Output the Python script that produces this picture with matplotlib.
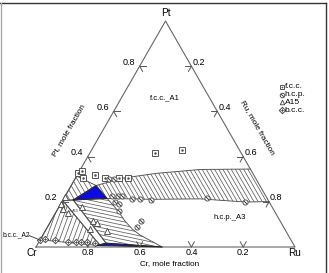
import numpy as np
import matplotlib
matplotlib.use("Agg")
import matplotlib.pyplot as plt
from matplotlib.collections import LineCollection
from matplotlib.patches import Polygon
from matplotlib.lines import Line2D

plt.rcParams["font.family"] = ["Liberation Sans", "DejaVu Sans"]

# compositions are mole fractions (Pt, Ru); Cr is the balance
fcc_edge_pt = [0.272, 0.305, 0.326, 0.343, 0.345]
fcc_edge_ru = [0.096, 0.183, 0.303, 0.462, 0.655]
hcp_edge_pt = [0.215, 0.211, 0.213, 0.199, 0.201]
hcp_edge_ru = [0.167, 0.335, 0.527, 0.708, 0.799]
hcp_curve_pt = [0.215, 0.186, 0.157, 0.115, 0.080, 0.053, 0.029, 0.0]
hcp_curve_ru = [0.167, 0.204, 0.240, 0.286, 0.331, 0.375, 0.426, 0.487]
tri_top_pt = [0.208, 0.272, 0.215]
tri_top_ru = [0.040, 0.096, 0.167]
tri_bot_pt = [0.007, 0.017, 0.0]
tri_bot_ru = [0.232, 0.262, 0.487]
fcc_a15_pt = [0.314, 0.272, 0.208, 0.206]
fcc_a15_ru = [0.0, 0.096, 0.040, 0.0]
a15_band_pt = [0.206, 0.208, 0.017, 0.010]
a15_band_ru = [0.0, 0.040, 0.262, 0.240]
bcc_a15_pt = [0.032, 0.206, 0.010, 0.007]
bcc_a15_ru = [0.0, 0.0, 0.240, 0.232]

# experimental points
fcc_pt = [0.415, 0.431, 0.326, 0.336, 0.307, 0.319, 0.304, 0.3075, 0.3075]
fcc_ru = [0.252, 0.349, 0.0, 0.008, 0.027, 0.068, 0.114, 0.168, 0.201]
hcp_pt = [0.301, 0.301, 0.2235, 0.2235, 0.2235, 0.212, 0.212, 0.210, 0.219,
          0.197, 0.201, 0.192, 0.161, 0.0885, 0.115]
hcp_ru = [0.133, 0.152, 0.183, 0.203, 0.222, 0.263, 0.294, 0.339, 0.550,
          0.708, 0.205, 0.226, 0.240, 0.345, 0.348]
a15_pt = [0.221, 0.190, 0.170, 0.150, 0.178, 0.117, 0.104, 0.080, 0.069]
a15_ru = [0.0, 0.003, 0.021, 0.048, 0.087, 0.163, 0.182, 0.168, 0.240]
bcc_pt = [0.032, 0.035, 0.031, 0.024, 0.020, 0.020, 0.021, 0.016]
bcc_ru = [0.0, 0.017, 0.058, 0.113, 0.143, 0.162, 0.186, 0.220]

ticks = [0.2, 0.4, 0.6, 0.8]

W, H = 329, 273
OX, OY, SX, SY = 36.0, 247.0, 259.0, 226.0
EDGE = "#505050"
BLUE = "#0c0ce0"


def cart(pt, ru):
    pt = np.asarray(pt, float)
    ru = np.asarray(ru, float)
    return ru + pt / 2, pt


def pix(px, py):
    return (px - OX) / SX, (OY - py) / SY


def hatch(ax, xs, ys, angle, step, color="#5c5c5c", lw=0.55):
    poly = Polygon(np.column_stack([xs, ys]), closed=True, fc="none", ec="none")
    ax.add_patch(poly)
    # done in pixel units so the angle looks right on screen
    px = np.asarray(xs) * SX
    py = np.asarray(ys) * SY
    c = np.array([px.mean(), py.mean()])
    r = np.hypot(px - c[0], py - c[1]).max() + step
    a = np.radians(angle)
    d = np.array([np.cos(a), np.sin(a)])
    n = np.array([-np.sin(a), np.cos(a)])
    segs = []
    for t in np.arange(-r, r, step):
        p0 = c + t * n - r * d
        p1 = c + t * n + r * d
        segs.append([(p0[0] / SX, p0[1] / SY), (p1[0] / SX, p1[1] / SY)])
    lc = LineCollection(segs, colors=color, linewidths=lw)
    ax.add_collection(lc)
    lc.set_clip_path(poly)


def outline(ax, xs, ys, close=True, lw=0.65, color=EDGE):
    xs, ys = list(xs), list(ys)
    if close:
        xs, ys = xs + xs[:1], ys + ys[:1]
    ax.plot(xs, ys, color=color, lw=lw)


fig = plt.figure(figsize=(W / 100, H / 100), dpi=100)
ax = fig.add_axes([0, 0, 1, 1])
ax.set_xlim(-OX / SX, (W - OX) / SX)
ax.set_ylim((OY - H) / SY, OY / SY)
ax.axis("off")

# frame of the picture
fig.add_artist(Line2D([0, 325.5 / W], [1 - 2.5 / H] * 2, color="#333", lw=1.0))
fig.add_artist(Line2D([0.6 / W] * 2, [0, 1 - 2.5 / H], color="#aaa", lw=1.0))
fig.add_artist(Line2D([325.5 / W] * 2, [0, 1 - 2.5 / H], color="#333", lw=1.0))

# triangle
ax.plot([0, 1, 0.5, 0], [0, 0, 1, 0], color="#666", lw=0.8)

# fcc + hcp band
bx, by = cart(fcc_edge_pt + hcp_edge_pt[::-1], fcc_edge_ru + hcp_edge_ru[::-1])
hatch(ax, bx, by, -60, 3.6)
outline(ax, *cart(fcc_edge_pt, fcc_edge_ru), close=False)
outline(ax, *cart(hcp_edge_pt, hcp_edge_ru), close=False)

# fcc + A15
x, y = cart(fcc_a15_pt, fcc_a15_ru)
hatch(ax, x, y, -60, 4.2)
outline(ax, x, y)

# A15 + hcp
rb_pt = [tri_top_pt[0]] + hcp_curve_pt + [tri_bot_pt[1]]
rb_ru = [tri_top_ru[0]] + hcp_curve_ru + [tri_bot_ru[1]]
x, y = cart(rb_pt, rb_ru)
hatch(ax, x, y, -12, 3.5)
outline(ax, x, y)

# bcc + A15
x, y = cart(bcc_a15_pt, bcc_a15_ru)
hatch(ax, x, y, 70, 4.3)
outline(ax, x, y)
outline(ax, *cart(a15_band_pt, a15_band_ru))

# three-phase triangles
for tp, tr in [(tri_top_pt, tri_top_ru), (tri_bot_pt, tri_bot_ru)]:
    x, y = cart(tp, tr)
    ax.fill(x, y, color=BLUE, lw=0)
    outline(ax, x, y, color="#222", lw=0.7)

# ticks
L = 6.0
def arm(x0, y0, dx, dy):
    k = L / np.hypot(dx * SX, dy * SY)
    ax.plot([x0, x0 + dx * k], [y0, y0 + dy * k], color="#555", lw=0.7)

for v in ticks:
    # bottom (Cr)
    x0, y0 = cart(0.0, 1 - v)
    arm(x0, y0, 0.5, 1)
    arm(x0, y0, -0.5, 1)
    ax.text(x0, pix(0, 252.5)[1], f"{v:.1f}", ha="center", va="center", fontsize=6.5)
    # left (Pt)
    x0, y0 = cart(v, 0.0)
    arm(x0, y0, 1, 0)
    arm(x0, y0, 0.5, -1)
    ax.text(x0 - 4.5 / SX, y0 + 4 / SY, f"{v:.1f}", ha="right", va="center", fontsize=6.5)
    # right (Ru)
    x0, y0 = cart(1 - v, v)
    arm(x0, y0, -1, 0)
    arm(x0, y0, -0.5, -1)
    ax.text(x0 + 1 / SX, y0 + 4 / SY, f"{v:.1f}", ha="left", va="center", fontsize=6.5)

# markers
gray = "#4a4a4a"
mk = dict(ls="none", mfc="white", mec=gray, mew=0.65, ms=3.7)
dot = dict(ls="none", color=gray)
ax.plot(*cart(fcc_pt, fcc_ru), marker="s", **mk)
ax.plot(*cart(fcc_pt, fcc_ru), marker=".", ms=1.5, **dot)
ax.plot(*cart(hcp_pt, hcp_ru), marker="o", **mk)
ax.plot(*cart(hcp_pt, hcp_ru), marker=(2, 2, 45), ms=2.6, mew=0.5, **dot)
ax.plot(*cart(a15_pt, a15_ru), marker="^", **mk)
ax.plot(*cart(bcc_pt, bcc_ru), marker="D", **dict(mk, ms=3.3))
ax.plot(*cart(bcc_pt, bcc_ru), marker="+", ms=2.6, mew=0.5, **dot)

# labels
ax.text(*pix(165.7, 13.5), "Pt", ha="center", va="center", fontsize=7.2)
ax.text(*pix(32, 252.8), "Cr", ha="center", va="center", fontsize=7.2)
ax.text(*pix(295, 252.8), "Ru", ha="center", va="center", fontsize=7.2)
ax.text(*pix(170, 263.5), "Cr, mole fraction", ha="center", va="center", fontsize=5.9)
ax.text(*pix(68.3, 130), "Pt, mole fraction", ha="center", va="center",
        fontsize=5.9, rotation=60)
ax.text(*pix(257.5, 128), "Ru, mole fraction", ha="center", va="center",
        fontsize=5.9, rotation=-60)
ax.text(*pix(165, 97.7), "f.c.c._A1", ha="center", va="center", fontsize=5.5)
ax.text(*pix(230, 217.7), "h.c.p._A3", ha="center", va="center", fontsize=5.5)
ax.text(*pix(16.7, 234.5), "b.c.c._A2", ha="center", va="center", fontsize=4.8)
ax.text(*pix(76, 211), "A15", ha="center", va="center", fontsize=3, color="#444")
ax.plot(*zip(pix(29, 235.5), pix(40, 240)), color="#333", lw=0.6)

# legend
rows = [("s", "."), ("o", (2, 2, 45)), ("^", None), ("D", "+")]
names = ["f.c.c.", "h.c.p.", "A15", "b.c.c."]
for i, ((m, inner), name) in enumerate(zip(rows, names)):
    lx, ly = pix(281.5, 87 + i * 7.7)
    ax.plot(lx, ly, marker=m, **dict(mk, ms=3.3))
    if inner is not None:
        ax.plot(lx, ly, marker=inner, ms=2.2 if inner != "." else 1.4, mew=0.5, **dot)
    ax.text(*pix(284.5, 87 + i * 7.7), name, ha="left", va="center", fontsize=6)

fig.savefig("out.png", dpi=100)
